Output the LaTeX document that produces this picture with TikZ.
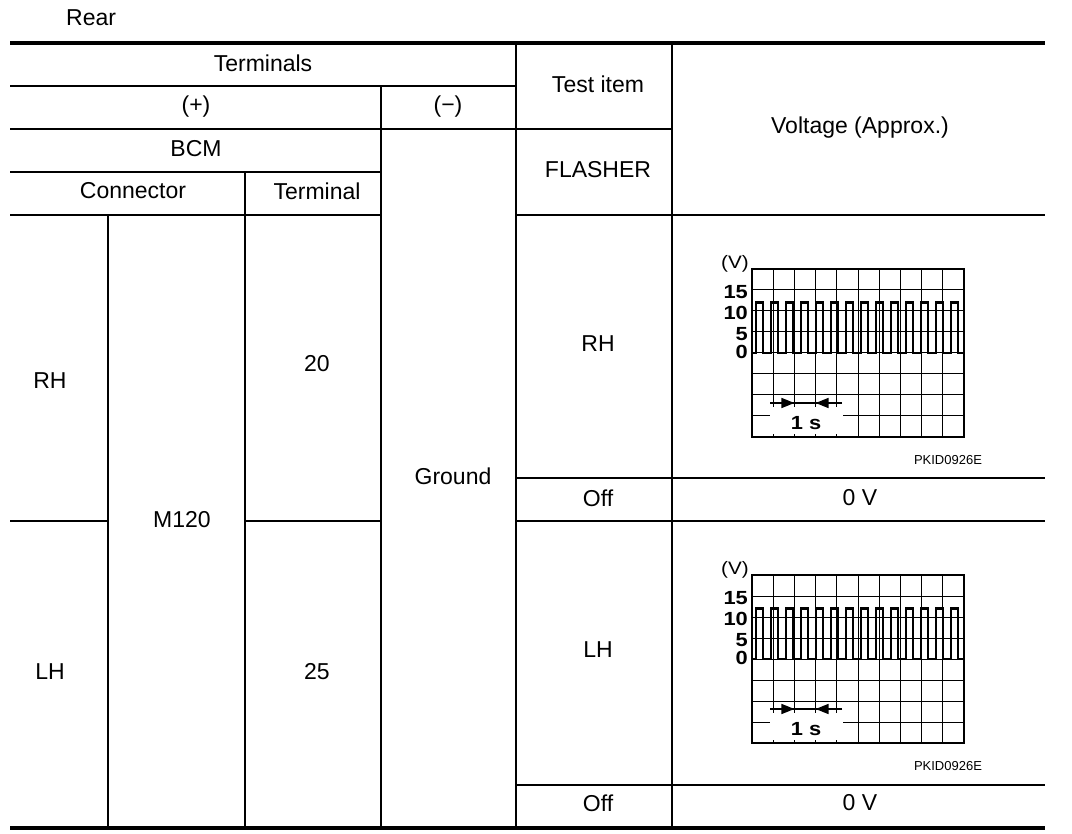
\documentclass[tikz,border=0pt]{standalone}
\usepackage{fontspec}
\setmainfont{Liberation Sans}
\usetikzlibrary{arrows.meta, positioning}
\tikzstyle{every node}=[font=\fontsize{23}{26}\selectfont, inner sep=0pt]
\tikzstyle{rule}=[line width=2pt]
\tikzstyle{heavyrule}=[line width=4.5pt]
\tikzstyle{gridline}=[line width=1pt]
\tikzstyle{frame}=[line width=2.2pt]
\tikzstyle{wave}=[line width=2.6pt, line join=miter]
\tikzstyle{axislabel}=[font=\fontsize{19}{19}\selectfont\bfseries, anchor=east]
\tikzstyle{unitlabel}=[font=\fontsize{18}{18}\selectfont, anchor=east]
\tikzstyle{tag}=[font=\fontsize{13}{13}\selectfont]
\newcommand{\tip}{{Triangle[length=13pt,width=10pt]}}
\newcommand{\wide}[1]{\scalebox{1.15}[1]{#1}}

\begin{document}
\begin{tikzpicture}[x=1pt, y=-1pt]
  \useasboundingbox (0,0) rectangle (1072,834);
  % table rules
  \draw[heavyrule] (10,43) -- (1045,43);
  \draw[heavyrule] (10,828) -- (1045,828);
  \draw[rule] (10,86) -- (516,86);
  \draw[rule] (10,129) -- (672,129);
  \draw[rule] (10,172) -- (381,172);
  \draw[rule] (10,215) -- (381,215) (516,215) -- (1045,215);
  \draw[rule] (516,478) -- (1045,478);
  \draw[rule] (10,521) -- (108,521) (245,521) -- (381,521) (516,521) -- (1045,521);
  \draw[rule] (516,785) -- (1045,785);
  \draw[rule] (108,215) -- (108,828);
  \draw[rule] (245,172) -- (245,828);
  \draw[rule] (381,86) -- (381,828);
  \draw[rule] (516,43) -- (516,828);
  \draw[rule] (672,43) -- (672,828);

  % header
  \node[anchor=west] (rear) at (66,18) {Rear};
  \node (terminals) at (263,63) {Terminals};
  \node (plus) at (196,107) {(+)};
  \node (minus) at (448,107) {(−)};
  \node (testitem) at (598,84) {Test item};
  \node (voltage) at (860,128) {Voltage (Approx.)};
  \node (bcm) at (196,149) {BCM};
  \node (flasher) at (598,170) {FLASHER};
  \node (connector) at (133,191) {Connector};
  \node (terminal) at (317,191) {Terminal};

  % body
  \node (rh) at (50,381) {RH};
  \node (lh) at (50,672) {LH};
  \node (m120) at (182,520) {M120};
  \node (t20) at (317,364) {20};
  \node (t25) at (317,672) {25};
  \node (ground) at (453,476) {Ground};
  \node (itemrh) at (598,344) {RH};
  \node (itemlh) at (598,650) {LH};
  \node (offrh) at (598,498) {Off};
  \node (offlh) at (598,803) {Off};
  \node (zerorh) at (860,498) {0 V};
  \node (zerolh) at (860,803) {0 V};

  % scope traces
  \foreach \sy/\nm in {0/rh,306/lh}{
    \begin{scope}[shift={(0,\sy)}]
      \foreach \i in {1,...,9}
        \draw[gridline] ({752+21.2*\i},269) -- ({752+21.2*\i},437);
      \foreach \j in {1,...,7}
        \draw[gridline] (752,{269+21*\j}) -- (964,{269+21*\j});
      \fill[white] (770,407) rectangle (843,434);
      \draw[frame] (752,269) rectangle (964,437);
      \draw[wave] (752,353) foreach \k in {0,...,13} {
        -- ({756+15*\k},353) -- ++(0,-50.4) -- ++(7,0) -- ++(0,50.4) } -- (964,353);
      \coordinate (a-\nm) at (770,403);
      \coordinate (b-\nm) at (842,403);
      \coordinate (t1-\nm) at (794.4,403);
      \coordinate (t2-\nm) at (815.6,403);
      \draw[line width=1.6pt] (a-\nm) -- (b-\nm);
      \draw[line width=1.6pt, -\tip] (a-\nm) -- (t1-\nm);
      \draw[line width=1.6pt, -\tip] (b-\nm) -- (t2-\nm);
      \node[axislabel, anchor=center] (sec-\nm) at (806,423) {\wide{1 s}};
      \node[unitlabel] (unit-\nm) at (749,264) {\wide{(V)}};
      \node[axislabel] (v15-\nm) at (748,292) {\wide{15}};
      \node[axislabel] (v10-\nm) at (748,313) {\wide{10}};
      \node[axislabel] (v5-\nm) at (748,334) {\wide{5}};
      \node[axislabel] (v0-\nm) at (748,352) {\wide{0}};
      \node[tag] (code-\nm) at (948,460) {PKID0926E};
    \end{scope}
  }
\end{tikzpicture}
\end{document}
